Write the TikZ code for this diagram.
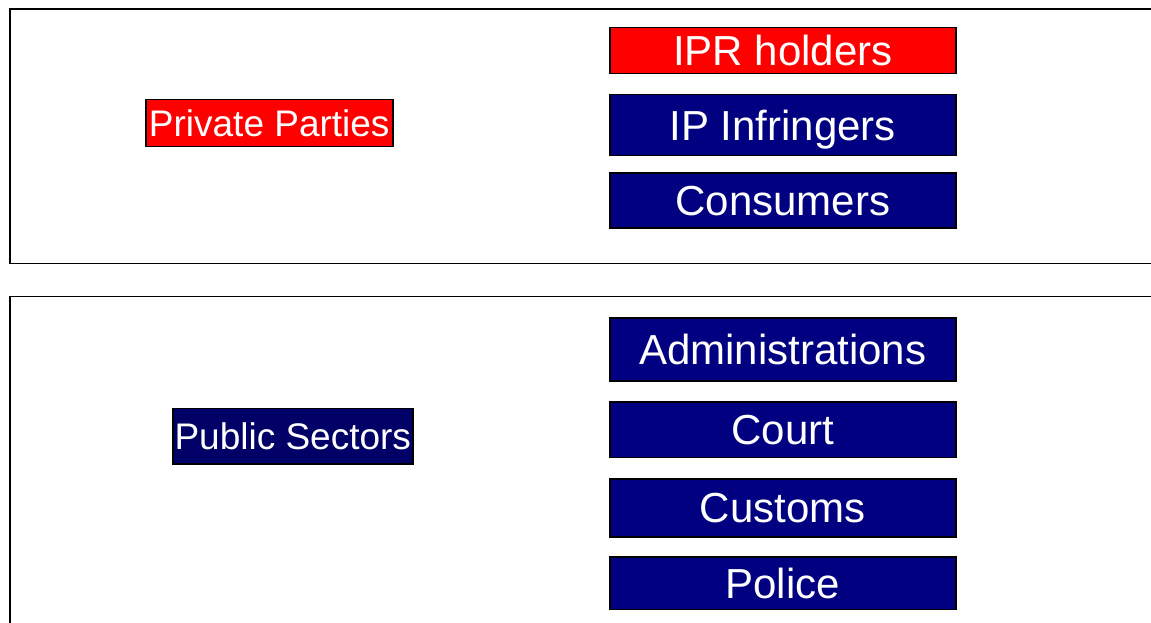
\documentclass[tikz,border=0pt]{standalone}
\usepackage{fontspec}
\setmainfont{Liberation Sans}
\definecolor{navyblue}{RGB}{0,0,128}
\definecolor{darknavy}{RGB}{0,0,102}
\definecolor{brightred}{RGB}{255,0,0}
\begin{document}
\begin{tikzpicture}[x=1pt,y=-1pt,
  panel/.style={draw=black,line width=1.5pt,fill=white},
  actor/.style={draw=black,line width=1.5pt,text=white,inner sep=0pt,anchor=north west},
  bigactor/.style={actor,font=\fontsize{42}{44}\selectfont,text height=30pt,text depth=0pt},
  smallactor/.style={actor,font=\fontsize{37}{39}\selectfont,text height=26.5pt,text depth=0pt},
  redfill/.style={fill=brightred},
  bluefill/.style={fill=navyblue}]
\useasboundingbox (0,0) rectangle (1151,623);
\clip (0,0) rectangle (1151,623);
\fill[white] (0,0) rectangle (1151,623);
% panels
\draw[panel] (10,9) rectangle (1170,263.3);
\draw[panel] (10,296.7) rectangle (1170,650);
% left nodes
\node[smallactor,redfill,minimum width=247pt,minimum height=46.7pt] (private) at (145,99) {Private Parties};
\node[smallactor,fill=darknavy,minimum width=240pt,minimum height=55.6pt] (public) at (172,407.7) {Public Sectors};
% right nodes
\node[bigactor,redfill,minimum width=346pt,minimum height=46pt] (ipr) at (609,26.7) {IPR holders};
\node[bigactor,bluefill,minimum width=346pt,minimum height=61pt] (infr) at (609,94) {IP Infringers};
\node[bigactor,bluefill,minimum width=346pt,minimum height=55pt] (cons) at (609,172.3) {Consumers};
\node[bigactor,bluefill,minimum width=346pt,minimum height=62.7pt] (admin) at (609,317.3) {Administrations};
\node[bigactor,bluefill,minimum width=346pt,minimum height=55.7pt] (court) at (609,401) {Court};
\node[bigactor,bluefill,minimum width=346pt,minimum height=57.7pt] (customs) at (609,478.3) {Customs};
\node[bigactor,bluefill,minimum width=346pt,minimum height=52.7pt] (police) at (609,556) {Police};
\end{tikzpicture}
\end{document}
